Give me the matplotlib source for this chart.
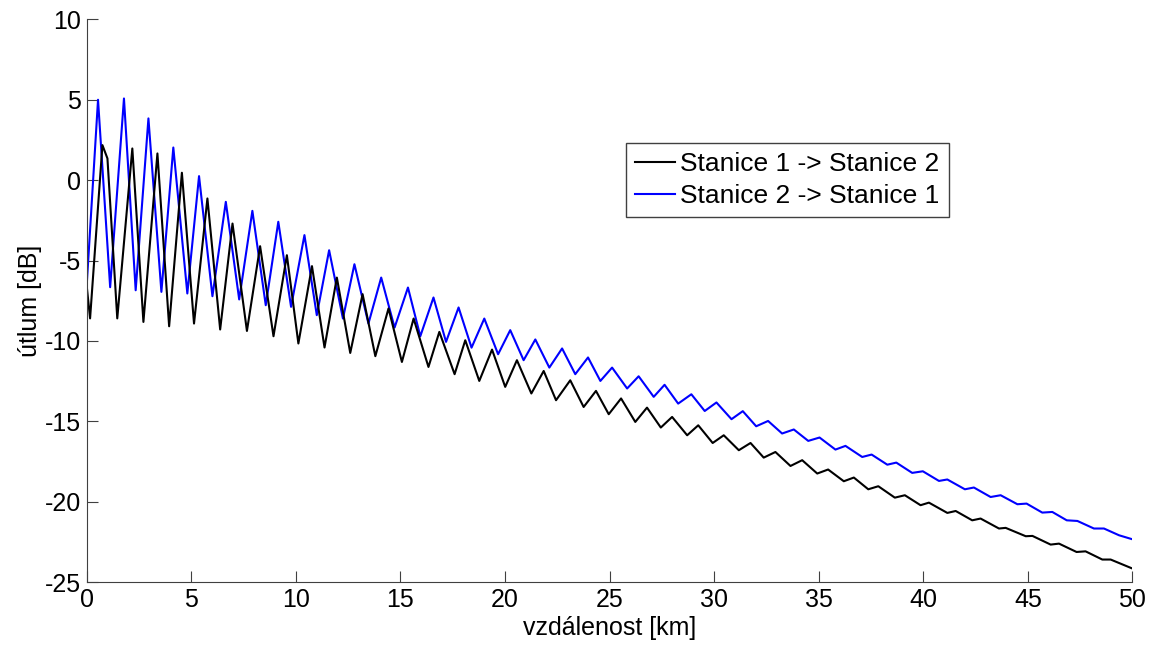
import matplotlib.pyplot as plt

plt.rcParams['font.family'] = ['Liberation Sans', 'DejaVu Sans']
plt.rcParams['axes.unicode_minus'] = False

# peaks / troughs, km and dB
s12_km = [0.0, 0.16, 0.75, 0.99, 1.46, 2.18, 2.71, 3.38, 3.94, 4.55, 5.13, 5.77, 6.38,
          6.97, 7.66, 8.29, 8.93, 9.57, 10.12, 10.77, 11.37, 11.96, 12.6, 13.19, 13.8,
          14.43, 15.07, 15.63, 16.34, 16.86, 17.59, 18.1, 18.77, 19.38, 20.01, 20.57,
          21.26, 21.85, 22.44, 23.12, 23.76, 24.35, 24.96, 25.55, 26.23, 26.79, 27.45,
          27.99, 28.71, 29.24, 29.93, 30.46, 31.18, 31.74, 32.37, 32.93, 33.65, 34.21,
          34.93, 35.45, 36.2, 36.68, 37.37, 37.85, 38.64, 39.12, 39.87, 40.27, 41.15,
          41.55, 42.34, 42.74, 43.62, 43.94, 44.9, 45.22, 46.09, 46.49, 47.33, 47.76,
          48.56, 48.96, 50.0]
s12_db = [-6.6, -8.6, 2.18, 1.35, -8.6, 1.97, -8.82, 1.66, -9.09, 0.46, -8.92, -1.14, -9.29,
          -2.70, -9.38, -4.11, -9.71, -4.67, -10.16, -5.35, -10.41, -6.06, -10.75, -7.09,
          -10.95, -7.98, -11.31, -8.61, -11.62, -9.44, -12.07, -9.96, -12.49, -10.54,
          -12.86, -11.2, -13.27, -11.87, -13.69, -12.45, -14.11, -13.11, -14.56, -13.58,
          -15.04, -14.15, -15.39, -14.73, -15.87, -15.25, -16.35, -15.87, -16.8, -16.35,
          -17.26, -16.91, -17.78, -17.42, -18.25, -18.0, -18.73, -18.5, -19.23, -19.04,
          -19.75, -19.6, -20.22, -20.06, -20.7, -20.58, -21.16, -21.05, -21.67, -21.63,
          -22.15, -22.13, -22.67, -22.61, -23.13, -23.09, -23.6, -23.6, -24.16]

s21_km = [0.0, 0.54, 1.12, 1.78, 2.34, 2.95, 3.57, 4.14, 4.81, 5.37, 6.01, 6.65, 7.29,
          7.92, 8.56, 9.16, 9.77, 10.41, 11.0, 11.59, 12.25, 12.8, 13.47, 14.08, 14.72,
          15.36, 15.95, 16.58, 17.18, 17.78, 18.4, 19.01, 19.67, 20.25, 20.89, 21.45,
          22.12, 22.73, 23.36, 23.97, 24.56, 25.12, 25.84, 26.39, 27.11, 27.63, 28.28,
          28.91, 29.55, 30.11, 30.83, 31.37, 32.01, 32.58, 33.25, 33.81, 34.5, 35.04,
          35.8, 36.28, 37.08, 37.53, 38.28, 38.71, 39.47, 39.98, 40.75, 41.15, 41.99,
          42.42, 43.22, 43.7, 44.5, 44.94, 45.69, 46.17, 46.86, 47.37, 48.16, 48.64,
          49.36, 50.0]
s21_db = [-6.5, 5.0, -6.66, 5.08, -6.85, 3.84, -6.95, 2.03, -7.05, 0.25, -7.22, -1.35, -7.42,
          -1.91, -7.78, -2.59, -7.88, -3.42, -8.40, -4.36, -8.61, -5.23, -8.92, -6.06,
          -9.17, -6.68, -9.71, -7.30, -10.06, -7.92, -10.42, -8.61, -10.83, -9.33, -11.2,
          -9.91, -11.66, -10.47, -12.07, -11.03, -12.49, -11.66, -12.96, -12.2, -13.48,
          -12.73, -13.9, -13.32, -14.36, -13.83, -14.87, -14.37, -15.31, -14.98, -15.76,
          -15.51, -16.22, -16.01, -16.76, -16.53, -17.22, -17.07, -17.7, -17.57, -18.21,
          -18.11, -18.71, -18.62, -19.23, -19.12, -19.71, -19.6, -20.16, -20.12, -20.68,
          -20.64, -21.16, -21.2, -21.67, -21.67, -22.09, -22.34]

fig = plt.figure(figsize=(11.58, 6.46), dpi=100)
ax = fig.add_axes([0.0749, 0.099, 0.903, 0.871])

# blue first, black drawn over it (as in the original)
l21, = ax.plot(s21_km, s21_db, color='blue', lw=1.5, label='Stanice 2 -> Stanice 1')
l12, = ax.plot(s12_km, s12_db, color='black', lw=1.5, label='Stanice 1 -> Stanice 2')

ax.set_xlim(0, 50)
ax.set_ylim(-25, 10)
ax.set_xticks(range(0, 51, 5))
ax.set_yticks(range(-25, 11, 5))
ax.tick_params(direction='in', length=8, labelsize=18, pad=4, color='#404040')
for side in ['top', 'right']:
    ax.spines[side].set_visible(False)
for side in ['left', 'bottom']:
    ax.spines[side].set_color('#404040')

ax.set_xlabel('vzdálenost [km]', fontsize=18, labelpad=3)
ax.set_ylabel('útlum [dB]', fontsize=18, labelpad=2)

leg = ax.legend(handles=[l12, l21], loc='upper left', bbox_to_anchor=(0.5157, 0.7807),
                borderaxespad=0, fontsize=19, fancybox=False, framealpha=1,
                edgecolor='#404040', handlelength=1.5, handletextpad=0.2,
                borderpad=0.35, labelspacing=0.3)
leg.get_frame().set_linewidth(1.0)

plt.savefig('out.png')
